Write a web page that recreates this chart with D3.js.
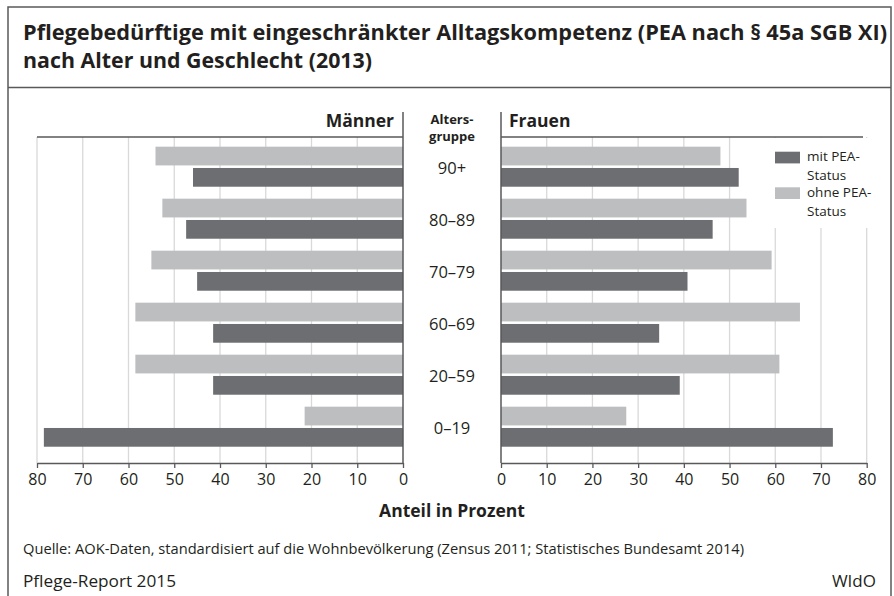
<!DOCTYPE html>
<html>
<head>
<meta charset="utf-8">
<script src="https://cdn.jsdelivr.net/npm/d3@7"></script>
<style>
  body { margin: 0; background: #fff; }
  svg { display: block; font-family: "Open Sans", "Noto Sans", sans-serif; }
</style>
</head>
<body>
<svg id="chart" width="894" height="596"></svg>
<script>
// Data (percent)
const ageGroups = ["90+", "80–89", "70–79", "60–69", "20–59", "0–19"];
const menWith = [45.9, 47.4, 45.0, 41.5, 41.5, 78.5];
const menWithout = [54.1, 52.6, 55.0, 58.5, 58.5, 21.5];
const womenWith = [52.0, 46.3, 40.8, 34.6, 39.1, 72.6];
const womenWithout = [48.0, 53.7, 59.2, 65.4, 60.9, 27.4];
const xTicks = [0, 10, 20, 30, 40, 50, 60, 70, 80];
const seriesKeys = ["ohne", "mit"];
const legendLabels = [["mit PEA-", "Status"], ["ohne PEA-", "Status"]];

const colors = { mit: "#6d6e71", ohne: "#bcbec0" };
const axisColor = "#58595b";
const gridColor = "#d9d9d9";

const svg = d3.select("#chart");

// Frame
svg.append("path")
    .attr("d", "M8,596 V7 H891 V596")
    .attr("fill", "none").attr("stroke", axisColor).attr("stroke-width", 1.5);
svg.append("line")
    .attr("x1", 8).attr("x2", 891).attr("y1", 87.5).attr("y2", 87.5)
    .attr("stroke", axisColor).attr("stroke-width", 1.5);

// Title
const title = svg.append("g")
    .attr("font-weight", "bold").attr("font-size", 21).attr("fill", "#231f20");
title.append("text").attr("x", 23).attr("y", 40)
    .attr("textLength", 864).attr("lengthAdjust", "spacingAndGlyphs")
    .text("Pflegebedürftige mit eingeschränkter Alltagskompetenz (PEA nach § 45a SGB XI)");
title.append("text").attr("x", 23).attr("y", 68)
    .attr("textLength", 349).attr("lengthAdjust", "spacingAndGlyphs")
    .text("nach Alter und Geschlecht (2013)");

// Scales
const xLeft = d3.scaleLinear().domain([0, 80]).range([403, 37]);
const xRight = d3.scaleLinear().domain([0, 80]).range([501, 866.7]);
const y = d3.scaleBand().domain(ageGroups).range([140.7, 452.7])
    .paddingInner(0.23).paddingOuter(0.115);
const ySub = d3.scaleBand().domain(seriesKeys).range([0, y.bandwidth()]).paddingInner(0.12);

const plotTop = 137, plotBottom = 463;

// Gridlines
function grid(x) {
    svg.append("g").selectAll("line").data(xTicks.slice(1)).join("line")
        .attr("x1", d => x(d)).attr("x2", d => x(d))
        .attr("y1", plotTop).attr("y2", plotBottom)
        .attr("stroke", gridColor).attr("stroke-width", 1.3);
}
grid(xLeft);
grid(xRight);

// Bars
function bars(x, withVals, withoutVals) {
    const rows = ageGroups.map((g, i) => ({ g, ohne: withoutVals[i], mit: withVals[i] }));
    const grp = svg.append("g").selectAll("g").data(rows).join("g")
        .attr("transform", d => `translate(0,${y(d.g)})`);
    grp.selectAll("rect").data(d => seriesKeys.map(k => ({ k, v: d[k] }))).join("rect")
        .attr("x", d => Math.min(x(0), x(d.v)))
        .attr("width", d => Math.abs(x(d.v) - x(0)))
        .attr("y", d => ySub(d.k))
        .attr("height", ySub.bandwidth())
        .attr("fill", d => colors[d.k]);
}
bars(xLeft, menWith, menWithout);
bars(xRight, womenWith, womenWithout);

// Legend (white box breaks the gridlines)
svg.append("rect").attr("x", 758).attr("y", plotTop + 1).attr("width", 114).attr("height", 90)
    .attr("fill", "#fff");
const legend = svg.append("g").attr("font-size", 13.5).attr("fill", "#231f20");
["mit", "ohne"].forEach((k, i) => {
    const top = 151.7 + i * 35.6;
    legend.append("rect").attr("x", 775).attr("y", top).attr("width", 25).attr("height", 11.7)
        .attr("fill", colors[k]);
    legendLabels[i].forEach((t, j) => {
        legend.append("text").attr("x", 807).attr("y", top + 9.5 + j * 19).text(t);
    });
});

// Axes
function axis(x) {
    const g = svg.append("g").attr("transform", `translate(0,${plotBottom})`)
        .call(d3.axisBottom(x).tickValues(xTicks).tickSize(5).tickSizeOuter(0));
    g.select(".domain").attr("stroke", axisColor).attr("stroke-width", 1.5);
    g.selectAll(".tick line").attr("stroke", axisColor).attr("stroke-width", 1.3);
    g.selectAll(".tick text").attr("font-size", 16).attr("fill", "#231f20")
        .attr("font-family", "'Open Sans', sans-serif").attr("y", 11);
}
axis(xLeft);
axis(xRight);

// Panel frames: vertical axis lines and top rules
[[403, 37, 403], [501, 501, 863]].forEach(([vx, h1, h2]) => {
    svg.append("line").attr("x1", vx).attr("x2", vx).attr("y1", 112).attr("y2", plotBottom)
        .attr("stroke", axisColor).attr("stroke-width", 1.5);
    svg.append("line").attr("x1", h1).attr("x2", h2).attr("y1", plotTop).attr("y2", plotTop)
        .attr("stroke", axisColor).attr("stroke-width", 1.5);
});

// Panel headings
svg.append("text").attr("x", 394).attr("y", 127).attr("text-anchor", "end")
    .attr("font-weight", "bold").attr("font-size", 17.5).attr("fill", "#231f20").text("Männer");
svg.append("text").attr("x", 509).attr("y", 127)
    .attr("font-weight", "bold").attr("font-size", 17.5).attr("fill", "#231f20").text("Frauen");

// Age group labels
const mid = (xLeft(0) + xRight(0)) / 2;
const head = svg.append("g").attr("text-anchor", "middle").attr("font-weight", "bold")
    .attr("font-size", 13).attr("fill", "#231f20");
head.append("text").attr("x", mid).attr("y", 123.5).text("Alters-");
head.append("text").attr("x", mid).attr("y", 141).text("gruppe");

svg.append("g").selectAll("text").data(ageGroups).join("text")
    .attr("x", mid).attr("y", d => y(d) + y.bandwidth() / 2 + 7)
    .attr("text-anchor", "middle").attr("font-size", 16.5).attr("fill", "#231f20")
    .text(d => d);

// Axis title
svg.append("text").attr("x", mid).attr("y", 517).attr("text-anchor", "middle")
    .attr("font-weight", "bold").attr("font-size", 17.5).attr("fill", "#231f20")
    .text("Anteil in Prozent");

// Footer
svg.append("text").attr("x", 23).attr("y", 554).attr("font-size", 14.5).attr("fill", "#231f20")
    .attr("textLength", 721).attr("lengthAdjust", "spacingAndGlyphs")
    .text("Quelle: AOK-Daten, standardisiert auf die Wohnbevölkerung (Zensus 2011; Statistisches Bundesamt 2014)");
svg.append("text").attr("x", 23).attr("y", 587).attr("font-size", 17).attr("fill", "#231f20")
    .attr("textLength", 153).attr("lengthAdjust", "spacingAndGlyphs")
    .text("Pflege-Report 2015");
svg.append("text").attr("x", 876).attr("y", 587).attr("text-anchor", "end")
    .attr("font-size", 17).attr("fill", "#231f20")
    .text("WIdO");
</script>
</body>
</html>
